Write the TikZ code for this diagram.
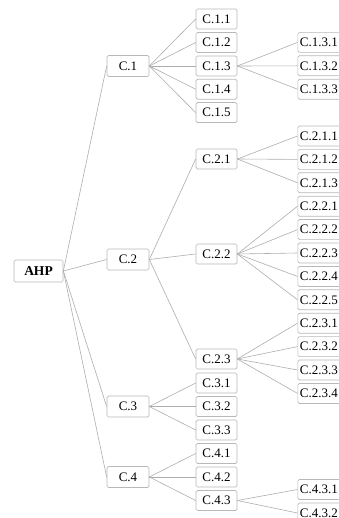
\documentclass[tikz,border=0pt]{standalone}
\usepackage{fontspec}
\setmainfont{Liberation Serif}
\begin{document}
\begin{tikzpicture}[x=1pt,y=-1pt,
  box/.style={draw=black!28, rounded corners=1.5pt, line width=0.7pt, minimum width=41pt, minimum height=20pt, inner sep=0pt, font=\fontsize{13}{15}\selectfont, fill=white},
  rootbox/.style={box, minimum width=49pt, minimum height=22pt, font=\fontsize{13.5}{15}\selectfont\bfseries},
  lvlone/.style={box, minimum width=42pt, minimum height=21pt},
  leaf/.style={box, anchor=west, inner xsep=2pt, text width=46pt, align=left},
  link/.style={draw=black!32, line width=0.6pt}]
\useasboundingbox (0,0) rectangle (338,518);
% root
\node[rootbox] (ahp) at (38.5,271) {AHP};
% level 1
\node[lvlone] (c1) at (128,66) {C.1};
\node[lvlone] (c2) at (128,259.5) {C.2};
\node[lvlone] (c3) at (128,406.5) {C.3};
\node[lvlone] (c4) at (128,477) {C.4};
% level 2
\node[box] (c11) at (216.5,19) {C.1.1};
\node[box] (c12) at (216.5,42.5) {C.1.2};
\node[box] (c13) at (216.5,66) {C.1.3};
\node[box] (c14) at (216.5,89.2) {C.1.4};
\node[box] (c15) at (216.5,112.6) {C.1.5};
\node[box] (c21) at (216.5,159) {C.2.1};
\node[box] (c22) at (216.5,254) {C.2.2};
\node[box] (c23) at (216.5,359) {C.2.3};
\node[box] (c31) at (216.5,383) {C.3.1};
\node[box] (c32) at (216.5,406.5) {C.3.2};
\node[box] (c33) at (216.5,430) {C.3.3};
\node[box] (c41) at (216.5,453.5) {C.4.1};
\node[box] (c42) at (216.5,477) {C.4.2};
\node[box] (c43) at (216.5,500.5) {C.4.3};
% level 3
\node[leaf] (c131) at (297.5,42.4) {C.1.3.1};
\node[leaf] (c132) at (297.5,65.8) {C.1.3.2};
\node[leaf] (c133) at (297.5,89.2) {C.1.3.3};
\node[leaf] (c211) at (297.5,136) {C.2.1.1};
\node[leaf] (c212) at (297.5,159.4) {C.2.1.2};
\node[leaf] (c213) at (297.5,182.8) {C.2.1.3};
\node[leaf] (c221) at (297.5,206.2) {C.2.2.1};
\node[leaf] (c222) at (297.5,229.6) {C.2.2.2};
\node[leaf] (c223) at (297.5,253) {C.2.2.3};
\node[leaf] (c224) at (297.5,276.4) {C.2.2.4};
\node[leaf] (c225) at (297.5,299.8) {C.2.2.5};
\node[leaf] (c231) at (297.5,323.2) {C.2.3.1};
\node[leaf] (c232) at (297.5,346.6) {C.2.3.2};
\node[leaf] (c233) at (297.5,370) {C.2.3.3};
\node[leaf] (c234) at (297.5,393.4) {C.2.3.4};
\node[leaf] (c431) at (297.5,489.5) {C.4.3.1};
\node[leaf] (c432) at (297.5,513) {C.4.3.2};
% connectors
\foreach \c in {c1,c2,c3,c4} \path[link] (ahp.east) -- (\c.west);
\foreach \c in {c11,c12,c13,c14,c15} \path[link] (c1.east) -- (\c.west);
\foreach \c in {c21,c22,c23} \path[link] (c2.east) -- (\c.west);
\foreach \c in {c31,c32,c33} \path[link] (c3.east) -- (\c.west);
\foreach \c in {c41,c42,c43} \path[link] (c4.east) -- (\c.west);
\foreach \c in {c131,c132,c133} \path[link] (c13.east) -- (\c.west);
\foreach \c in {c211,c212,c213} \path[link] (c21.east) -- (\c.west);
\foreach \c in {c221,c222,c223,c224,c225} \path[link] (c22.east) -- (\c.west);
\foreach \c in {c231,c232,c233,c234} \path[link] (c23.east) -- (\c.west);
\foreach \c in {c431,c432} \path[link] (c43.east) -- (\c.west);
\end{tikzpicture}
\end{document}
